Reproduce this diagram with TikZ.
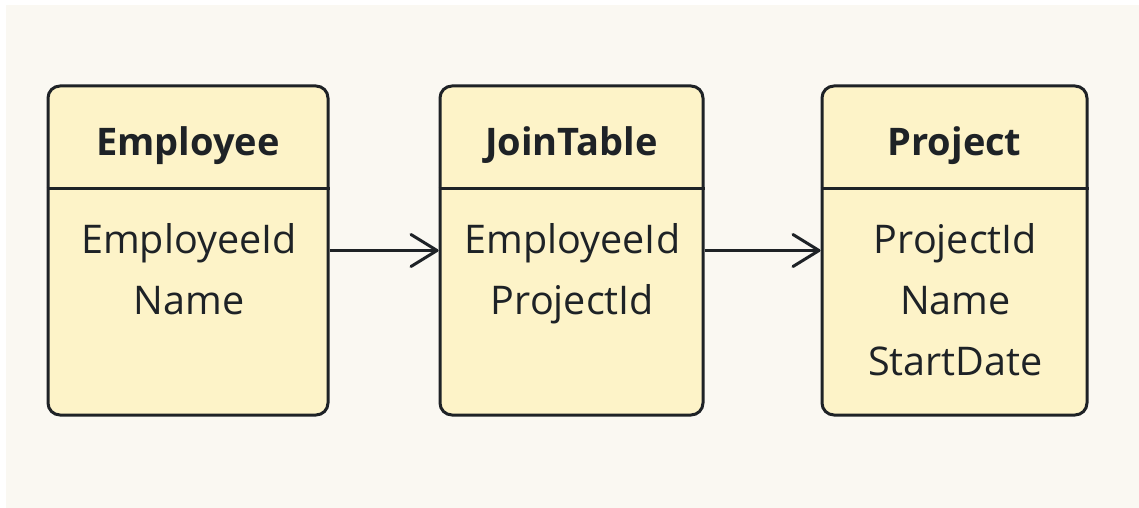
\documentclass[tikz,border=0pt]{standalone}
\usepackage{fontspec}
\setmainfont{Open Sans}
\usetikzlibrary{arrows.meta}
\definecolor{bgc}{HTML}{FAF8F2}
\definecolor{boxfill}{HTML}{FDF3C8}
\definecolor{ink}{HTML}{1E2226}
\tikzset{
  entity/.style={draw=ink, fill=boxfill, line width=3pt, rounded corners=12pt, inner sep=0pt},
  divider/.style={draw=ink, line width=3pt},
  titletext/.style={font=\fontsize{38}{45}\selectfont\bfseries, text=ink, anchor=base, inner sep=0pt},
  attrtext/.style={font=\fontsize{39.5}{46}\selectfont, text=ink, anchor=base, inner sep=0pt},
  link/.style={draw=ink, line width=3pt, -{Straight Barb[length=26pt,width=32pt,line width=3pt,round]}},
}
\begin{document}
\begin{tikzpicture}[x=1pt,y=-1pt]
\useasboundingbox (0,0) rectangle (1139,508);
\fill[white] (0,0) rectangle (1139,508);
\fill[bgc] (6,5) rectangle (1139,508);
% boxes
\node[entity, minimum width=280pt, minimum height=329pt] (emp) at (188,250.5) {};
\node[entity, minimum width=263pt, minimum height=329pt] (join) at (571.5,250.5) {};
\node[entity, minimum width=265pt, minimum height=329pt] (proj) at (954.5,250.5) {};
% dividers
\draw[divider] (emp.west |- 0,188) coordinate (ed1) -- (emp.east |- 0,188) coordinate (ed2);
\draw[divider] (join.west |- 0,188) coordinate (jd1) -- (join.east |- 0,188) coordinate (jd2);
\draw[divider] (proj.west |- 0,188) coordinate (pd1) -- (proj.east |- 0,188) coordinate (pd2);
% titles
\node[titletext] (empT) at (188,155) {Employee};
\node[titletext] (joinT) at (571.5,155) {JoinTable};
\node[titletext] (projT) at (954.5,155) {Project};
% attributes
\node[attrtext] (empA1) at (189,253) {EmployeeId};
\node[attrtext] (empA2) at (189,314) {Name};
\node[attrtext] (joinA1) at (572.5,253) {EmployeeId};
\node[attrtext] (joinA2) at (572.5,314) {ProjectId};
\node[attrtext] (projA1) at (955.5,253) {ProjectId};
\node[attrtext] (projA2) at (955.5,314) {Name};
\node[attrtext] (projA3) at (955.5,375) {StartDate};
% connectors
\draw[link] (emp.east) -- (join.west);
\draw[link] (join.east) -- (proj.west);
\end{tikzpicture}
\end{document}
